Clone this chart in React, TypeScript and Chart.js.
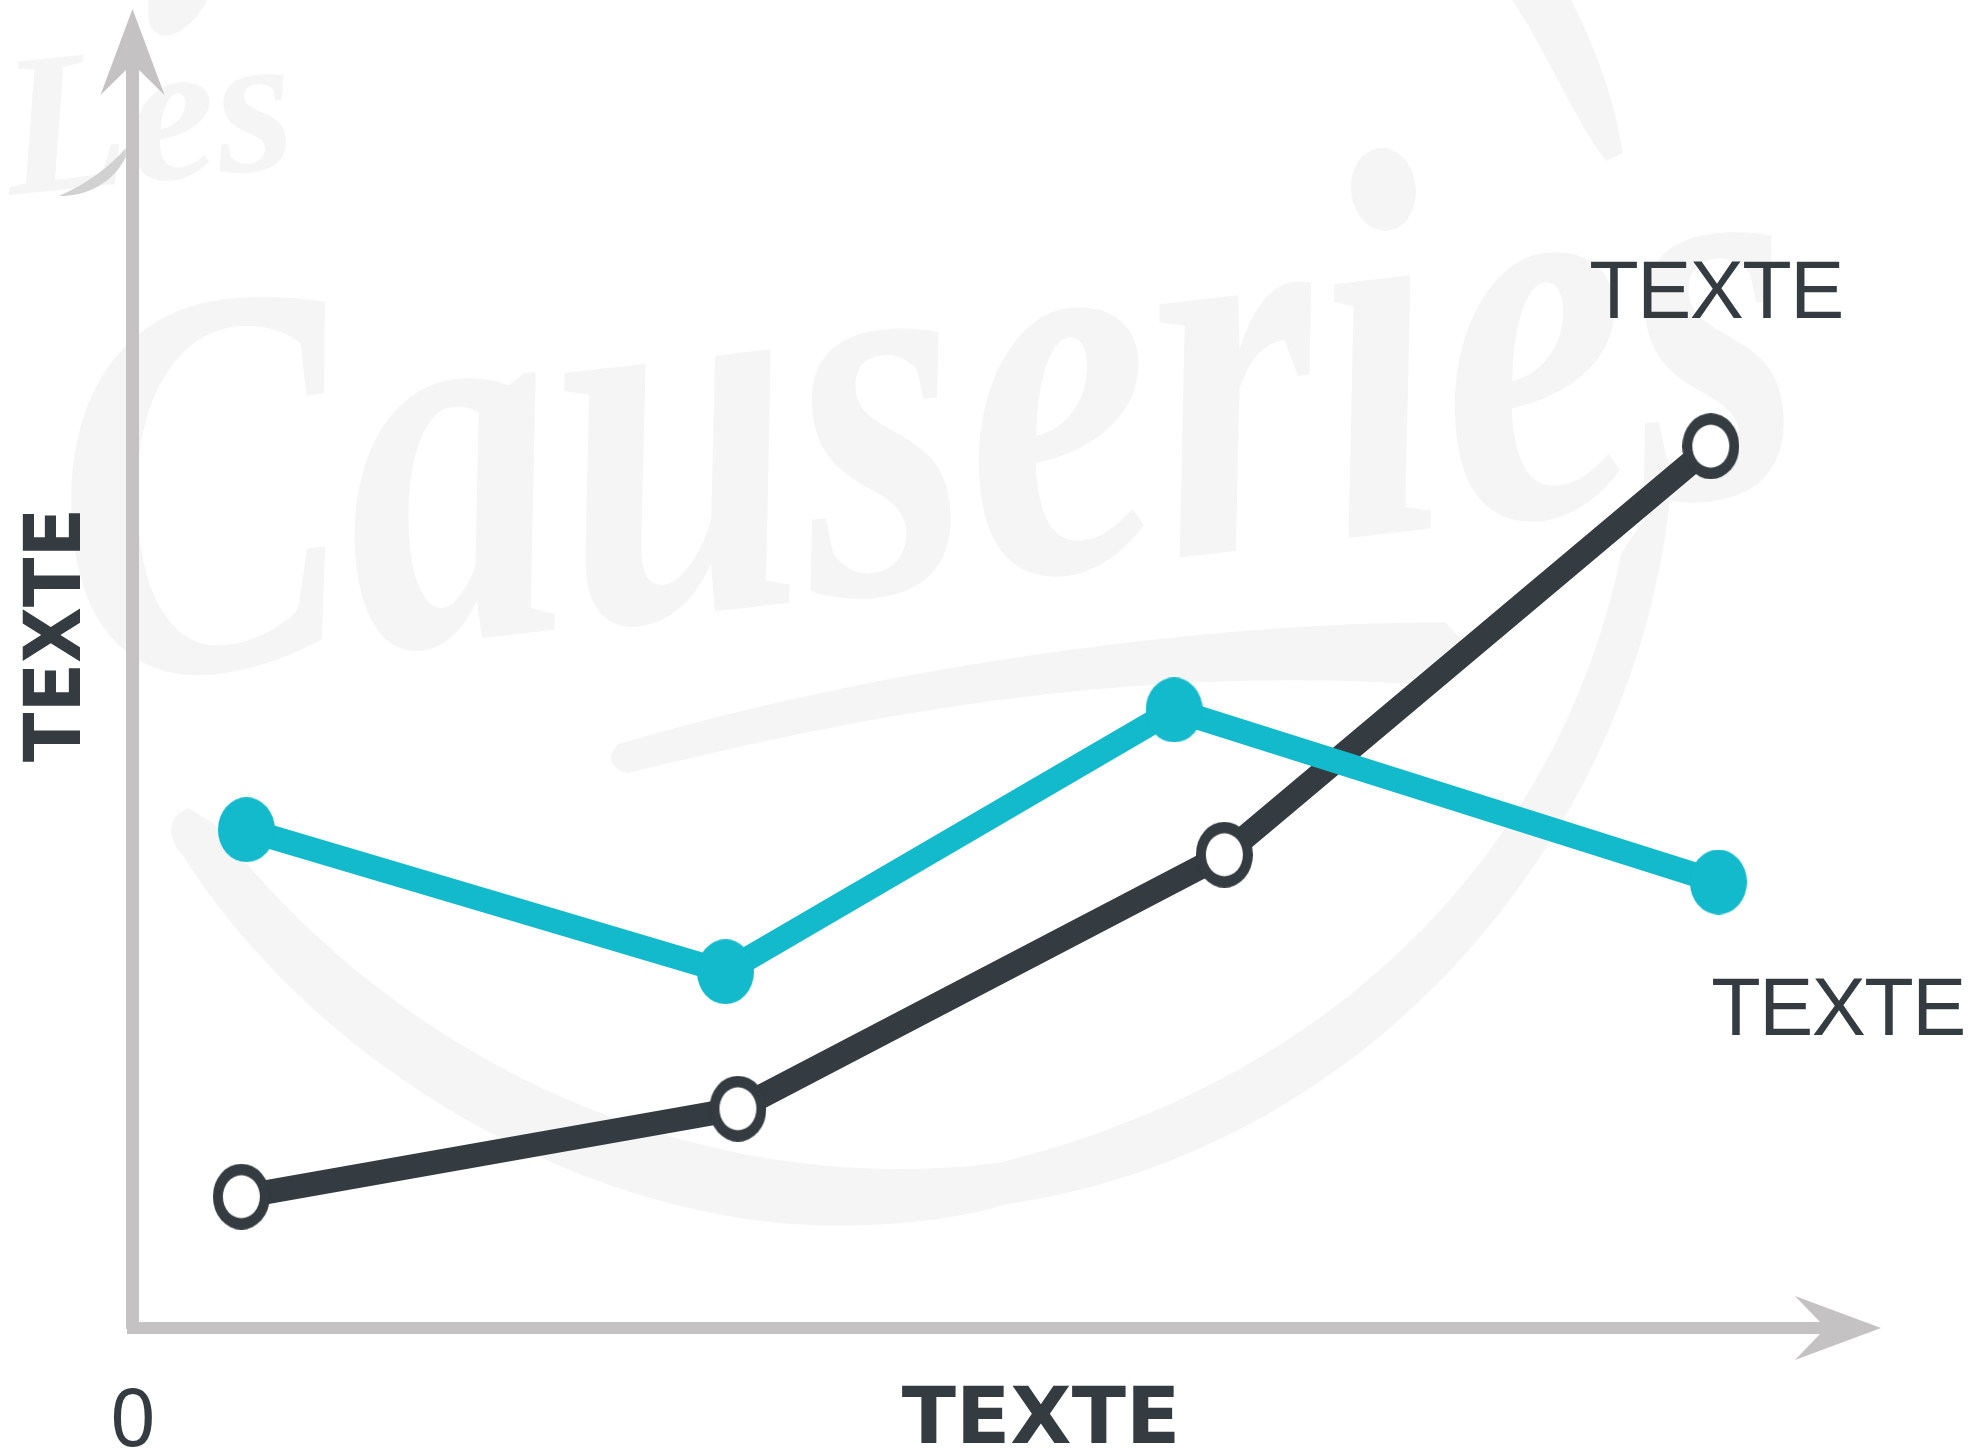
import React, { useEffect, useRef } from "react";
import { Chart, registerables } from "chart.js";

Chart.register(...registerables);

const darkX = [6.43, 35.77, 64.51, 93.25];
const darkY = [10.44, 17.43, 37.62, 70.1];
const tealX = [6.73, 35.03, 61.54, 93.7];
const tealY = [39.61, 28.32, 49.13, 35.45];

const GREY = "#c4c2c3";
const DARK = "#343c41";
const TEAL = "#12bacb";
const PALE = "#f5f5f5";

function marker(w: number, h: number, fill: string, hw = 0, hh = 0) {
  const c = document.createElement("canvas");
  c.width = w;
  c.height = h;
  const g = c.getContext("2d")!;
  g.fillStyle = fill;
  g.beginPath();
  g.ellipse(w / 2, h / 2, w / 2, h / 2, 0, 0, Math.PI * 2);
  g.fill();
  if (hw) {
    g.fillStyle = "#ffffff";
    g.beginPath();
    g.ellipse(w / 2, h / 2, hw / 2, hh / 2, 0, 0, Math.PI * 2);
    g.fill();
  }
  return c;
}

function label(
  ctx: CanvasRenderingContext2D,
  text: string,
  x: number,
  y: number,
  font: string,
  spacing = "0px",
  rot = 0,
  sx = 1
) {
  ctx.save();
  ctx.translate(x, y);
  ctx.rotate(rot);
  ctx.scale(sx, 1);
  ctx.font = font;
  ctx.fillStyle = DARK;
  ctx.textAlign = "center";
  ctx.textBaseline = "alphabetic";
  (ctx as any).letterSpacing = spacing;
  ctx.fillText(text, 0, 0);
  ctx.restore();
}

const watermark = {
  id: "watermark",
  beforeDraw(chart: any) {
    const ctx: CanvasRenderingContext2D = chart.ctx;
    ctx.save();
    ctx.fillStyle = "#ffffff";
    ctx.fillRect(0, 0, chart.width, chart.height);
    ctx.scale(1.257, 1.257);
    ctx.fillStyle = PALE;

    ctx.beginPath();
    ctx.moveTo(150, 643);
    ctx.bezierCurveTo(130, 650, 135, 670, 145, 680);
    ctx.bezierCurveTo(260, 860, 480, 975, 665, 975);
    ctx.bezierCurveTo(720, 975, 770, 968, 800, 958);
    ctx.bezierCurveTo(1100, 915, 1310, 650, 1330, 380);
    ctx.lineTo(1290, 440);
    ctx.bezierCurveTo(1240, 680, 1060, 860, 795, 925);
    ctx.bezierCurveTo(560, 955, 320, 850, 170, 655);
    ctx.closePath();
    ctx.fill();

    ctx.beginPath();
    ctx.moveTo(492, 592);
    ctx.bezierCurveTo(700, 530, 960, 495, 1150, 495);
    ctx.lineTo(1168, 515);
    ctx.lineTo(1140, 545);
    ctx.bezierCurveTo(920, 530, 720, 560, 500, 615);
    ctx.bezierCurveTo(485, 612, 482, 600, 492, 592);
    ctx.closePath();
    ctx.fill();

    ctx.beginPath();
    ctx.moveTo(1203, 0);
    ctx.bezierCurveTo(1230, 40, 1255, 100, 1278, 128);
    ctx.lineTo(1291, 122);
    ctx.bezierCurveTo(1285, 80, 1270, 40, 1250, 0);
    ctx.closePath();
    ctx.fill();

    ctx.beginPath();
    ctx.moveTo(118, 14);
    ctx.bezierCurveTo(120, 35, 145, 35, 165, 0);
    ctx.lineTo(118, 0);
    ctx.closePath();
    ctx.fill();

    ctx.save();
    ctx.translate(60, 545);
    ctx.rotate(-0.115);
    ctx.scale(0.78, 1);
    ctx.font = "italic bold 440px 'Liberation Serif'";
    ctx.textBaseline = "alphabetic";
    ctx.fillText("Causeries", 0, 0);
    ctx.restore();

    ctx.save();
    ctx.translate(8, 155);
    ctx.rotate(-0.1);
    ctx.font = "italic bold 160px 'Liberation Serif'";
    ctx.fillText("Les", 0, 0);
    ctx.restore();

    ctx.fillStyle = "#d2d1d2";
    ctx.beginPath();
    ctx.moveTo(47, 156);
    ctx.bezierCurveTo(70, 146, 88, 132, 100, 118);
    ctx.lineTo(100, 125);
    ctx.bezierCurveTo(90, 145, 70, 156, 47, 156);
    ctx.closePath();
    ctx.fill();
    ctx.restore();
  },
  afterDatasetsDraw(chart: any) {
    const ctx: CanvasRenderingContext2D = chart.ctx;
    const { left, right, top, bottom } = chart.chartArea;
    ctx.save();
    ctx.fillStyle = GREY;
    ctx.beginPath();
    ctx.moveTo(left, top - 61);
    ctx.lineTo(left + 32, top + 25);
    ctx.lineTo(left + 6.5, top);
    ctx.lineTo(left - 6.5, top);
    ctx.lineTo(left - 32, top + 25);
    ctx.closePath();
    ctx.fill();
    ctx.beginPath();
    ctx.moveTo(right + 56, bottom);
    ctx.lineTo(right - 30, bottom - 32);
    ctx.lineTo(right - 5, bottom - 6);
    ctx.lineTo(right - 5, bottom + 6);
    ctx.lineTo(right - 30, bottom + 32);
    ctx.closePath();
    ctx.fill();
    ctx.restore();

    const thin = "81px 'Liberation Sans'";
    const bold = "bold 78px 'DejaVu Sans'";
    label(ctx, "TEXTE", 1716, 318, thin, "-1.5px");
    label(ctx, "TEXTE", 1838, 1035, thin, "-1.5px");
    label(ctx, "TEXTE", 1041, 1443, bold, "0px", 0, 1.02);
    label(ctx, "TEXTE", 80, 635, bold, "0px", -Math.PI / 2, 0.93);
    label(ctx, "0", 133, 1446, "80px 'Noto Sans'");
  },
};

export default function App() {
  const ref = useRef<HTMLCanvasElement>(null);
  useEffect(() => {
    document.body.style.margin = "0";
    const chart = new Chart(ref.current!, {
      type: "line",
      data: {
        datasets: [
          {
            label: "Série 1",
            data: tealX.map((x, i) => ({ x, y: tealY[i] })),
            borderColor: TEAL,
            borderWidth: 24,
            pointStyle: marker(57, 65, TEAL) as any,
            pointRadius: 33,
            pointHoverRadius: 33,
          },
          {
            label: "Série 2",
            data: darkX.map((x, i) => ({ x, y: darkY[i] })),
            borderColor: DARK,
            borderWidth: 24,
            pointStyle: marker(57, 66, DARK, 37, 43) as any,
            pointRadius: 33,
            pointHoverRadius: 33,
          },
        ],
      },
      options: {
        responsive: false,
        animation: false,
        layout: { padding: { left: 132.5, right: 146, top: 70, bottom: 120 } },
        plugins: { legend: { display: false }, tooltip: { enabled: false } },
        scales: {
          x: {
            type: "linear",
            min: 0,
            max: 100,
            ticks: { display: false },
            grid: { display: false, drawTicks: false },
            border: { display: true, color: GREY, width: 12 },
          },
          y: {
            type: "linear",
            min: 0,
            max: 100,
            ticks: { display: false },
            grid: { display: false, drawTicks: false },
            border: { display: true, color: GREY, width: 13 },
          },
        },
      },
      plugins: [watermark],
    } as any);
    return () => chart.destroy();
  }, []);
  return (
    <div style={{ width: 1971, height: 1448 }}>
      <canvas ref={ref} width={1971} height={1448} style={{ display: "block" }} />
    </div>
  );
}
